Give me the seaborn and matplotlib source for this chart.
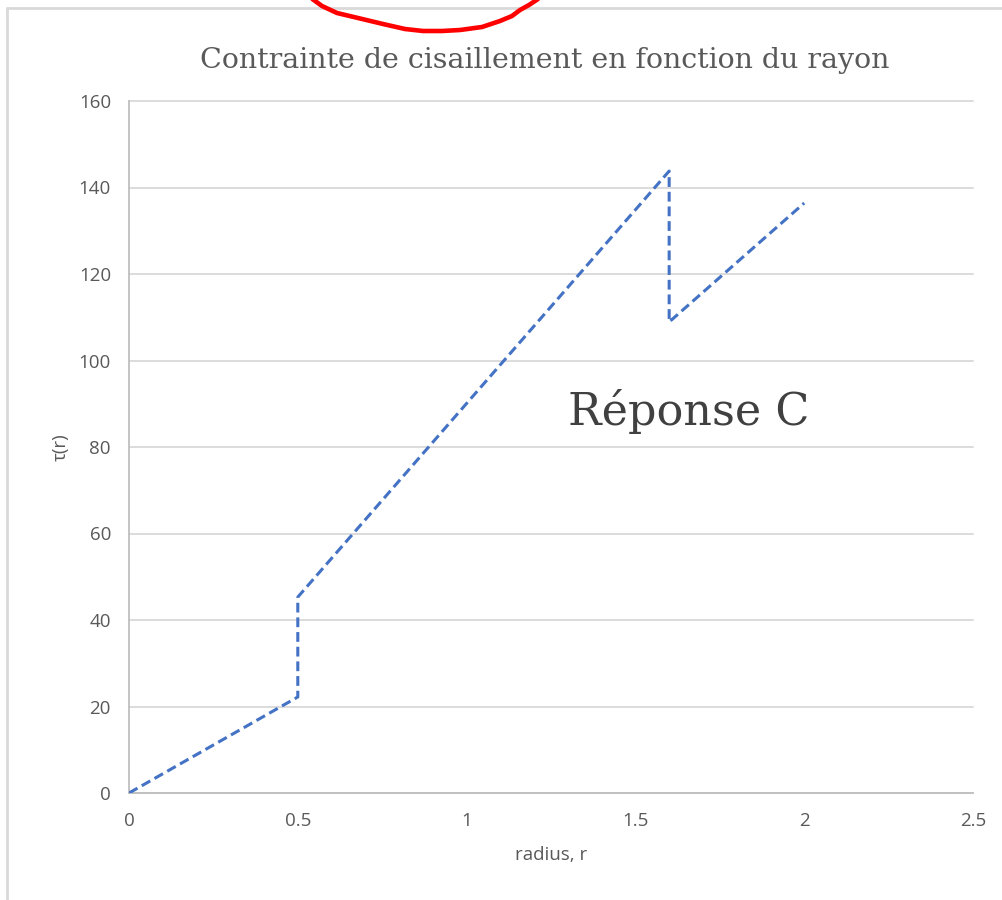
import numpy as np
import pandas as pd
import matplotlib
matplotlib.use("Agg")
import matplotlib.pyplot as plt
from matplotlib.lines import Line2D
import seaborn as sns

# Shear stress profile: piecewise-linear with jumps at the material interfaces
radius = [0.0, 0.5, 0.5, 1.6, 1.6, 2.0]
tau = [0.0, 22.2, 45.3, 143.8, 108.9, 136.4]
x_ticks = [0, 0.5, 1, 1.5, 2, 2.5]
x_tick_labels = ["0", "0.5", "1", "1.5", "2", "2.5"]
y_ticks = [0, 20, 40, 60, 80, 100, 120, 140, 160]

title = "Contrainte de cisaillement en fonction du rayon"
annotation = "Réponse C"

sns.set_theme(style="white")
plt.rcParams["font.family"] = ["Open Sans", "DejaVu Sans"]

W, H = 1003, 900
fig = plt.figure(figsize=(W / 100, H / 100), dpi=100)
ax = fig.add_axes([129 / W, 1 - 793 / H, (973 - 129) / W, (793 - 101) / H])

df = pd.DataFrame({"radius": radius, "tau": tau})
sns.lineplot(data=df, x="radius", y="tau", sort=False, estimator=None,
             color="#4472C4", linewidth=2.2, ax=ax, zorder=3)
ax.lines[0].set_dashes([3.2, 1.6])

ax.set_xlim(0, 2.5)
ax.set_ylim(0, 160)
ax.set_xticks(x_ticks)
ax.set_xticklabels(x_tick_labels)
ax.set_yticks(y_ticks)
ax.tick_params(axis="both", length=0, labelsize=13.5, labelcolor="#595959")
ax.tick_params(axis="y", pad=13)
ax.tick_params(axis="x", pad=14)

ax.grid(axis="y", color="#d9d9d9", linewidth=1.3)
ax.grid(axis="x", visible=False)
for gl in ax.get_ygridlines():
    gl.set_clip_on(False)
for side in ("top", "right"):
    ax.spines[side].set_visible(False)
for side in ("left", "bottom"):
    ax.spines[side].set_color("#bfbfbf")
    ax.spines[side].set_linewidth(1.3)

ax.set_xlabel("radius, r", fontsize=13.5, color="#595959")
ax.xaxis.set_label_coords(0.5, -(846 - 793) / (793 - 101))
ax.set_ylabel("τ(r)", fontsize=13.5, color="#595959")
ax.yaxis.set_label_coords(-(129 - 70) / (973 - 129), 0.5)

fig.text(545 / W, 1 - 60 / H, title, ha="center", va="center",
         fontsize=20.5, color="#595959", family=["DejaVu Serif"])

ax.text(1.3, 85, annotation, ha="left", va="baseline", fontsize=32,
        color="#404040", family=["DejaVu Serif"])

# Chart area border
fig.add_artist(Line2D([7.5 / W, 1], [1 - 7.5 / H, 1 - 7.5 / H],
                      transform=fig.transFigure, color="#d9d9d9", linewidth=2))
fig.add_artist(Line2D([7.5 / W, 7.5 / W], [0, 1 - 7.5 / H],
                      transform=fig.transFigure, color="#d9d9d9", linewidth=2))

# Hand-drawn red mark at the top edge
px = np.array([311, 322, 337, 358, 383, 405, 423, 442, 460, 482, 500, 512, 520, 529, 538])
py = np.array([-2, 6, 13, 18, 24, 29, 31, 31, 30, 27, 21, 16, 10, 5, -1])
fig.add_artist(Line2D(px / W, 1 - py / H, transform=fig.transFigure,
                      color="#ff0000", linewidth=3.3, solid_capstyle="round",
                      solid_joinstyle="round"))

fig.savefig("out.png", dpi=100)
